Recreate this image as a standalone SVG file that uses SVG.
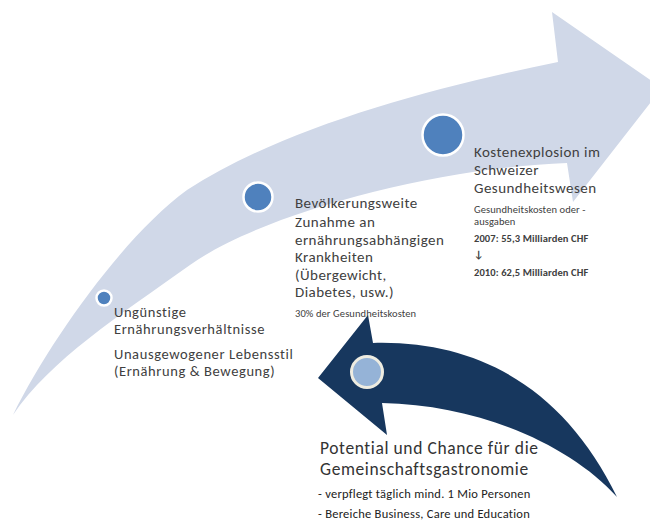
<svg xmlns="http://www.w3.org/2000/svg" width="650" height="520" viewBox="0 0 650 520">
<style>
.t{font-family:Carlito,Lato,"Liberation Sans",sans-serif;fill:#404040}
.m{font-size:15px;letter-spacing:0.45px}
.n{font-size:14.5px;letter-spacing:0.6px}
.s{font-size:10.5px;letter-spacing:0.1px}
.b{font-size:10.5px;font-weight:bold;letter-spacing:0.1px}
.l{font-size:17.5px;letter-spacing:0.6px;fill:#333}
.x{font-size:12.5px;letter-spacing:0.25px;fill:#222}
.dot{fill:#4f81bd;stroke:#fff;stroke-width:2.5}
</style>
<rect width="650" height="520" fill="#fff"/>
<g id="connectors">
<path id="bigArrow" fill="#d0d8e8" d="M13,415 C50,340 125,235 187,190 C280,130 420,90 558,62 L552,12 L662,88 L573,202 L567,163 C430,168 260,215 190,265 C120,315 50,360 13,415 Z"/>
<path id="backArrow" fill="#17375e" d="M318,378 L368,315 L373,343 C480,340 565,390 617,497 C570,445 480,405 382,403 L387,435 Z"/>
</g>
<g id="node1">
<circle class="dot" cx="104" cy="298" r="7.5"/>
<text class="t n" x="114" y="317">Ungünstige</text>
<text class="t n" x="114" y="334">Ernährungsverhältnisse</text>
<text class="t n" x="114" y="359">Unausgewogener Lebensstil</text>
<text class="t n" x="114" y="376">(Ernährung &amp; Bewegung)</text>
</g>
<g id="node2">
<circle class="dot" cx="258" cy="197" r="14.5"/>
<text class="t m" x="295" y="208">Bevölkerungsweite</text>
<text class="t m" x="295" y="227">Zunahme an</text>
<text class="t m" x="295" y="245">ernährungsabhängigen</text>
<text class="t m" x="295" y="262">Krankheiten</text>
<text class="t m" x="295" y="280">(Übergewicht,</text>
<text class="t m" x="295" y="297">Diabetes, usw.)</text>
<text class="t s" x="295" y="317">30% der Gesundheitskosten</text>
</g>
<g id="node3">
<circle class="dot" cx="443" cy="135" r="20.5"/>
<text class="t m" x="474" y="157">Kostenexplosion im</text>
<text class="t m" x="474" y="175">Schweizer</text>
<text class="t m" x="474" y="193">Gesundheitswesen</text>
<text class="t s" x="474" y="213">Gesundheitskosten oder -</text>
<text class="t s" x="474" y="225">ausgaben</text>
<text class="t b" x="474" y="242">2007: 55,3 Milliarden CHF</text>
<text class="t b" x="474" y="258">↓</text>
<text class="t b" x="474" y="276">2010: 62,5 Milliarden CHF</text>
</g>
<g id="node4">
<circle cx="367" cy="372" r="15.5" fill="#95b3d7" stroke="#eeece1" stroke-width="3"/>
<text class="t l" x="320" y="454">Potential und Chance für die</text>
<text class="t l" x="320" y="475">Gemeinschaftsgastronomie</text>
<text class="t x" x="318" y="498">- verpflegt täglich mind. 1 Mio Personen</text>
<text class="t x" x="318" y="518">- Bereiche Business, Care und Education</text>
</g>
</svg>
